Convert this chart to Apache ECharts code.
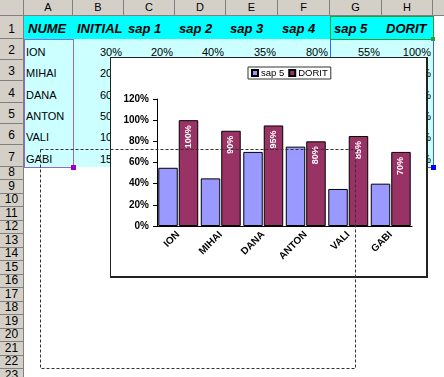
<!DOCTYPE html>
<html><head><meta charset="utf-8">
<script src="https://cdn.jsdelivr.net/npm/echarts@6/dist/echarts.min.js"></script>
<style>
html,body{margin:0;padding:0;width:444px;height:377px;overflow:hidden;background:#fff;font-family:'Liberation Sans',Arial,sans-serif;}
.abs{position:absolute;box-sizing:border-box;}
.hdr{background:#d4d0c8;color:#000;font-size:11px;display:flex;justify-content:center;border-right:1px solid #808080;border-bottom:1px solid #808080;}
.cell{white-space:nowrap;display:flex;align-items:flex-end;color:#000;}
#wrap{position:absolute;left:110px;top:57px;width:318px;height:221px;border:1px solid #222;border-right-width:2px;border-bottom-width:2px;background:#fff;box-sizing:border-box;z-index:5;}
#chart{position:absolute;left:0;top:0;width:315px;height:218px;}
#dash{position:absolute;left:0;top:0;z-index:10;pointer-events:none;}
</style></head>
<body>
<div id="sheet"></div>
<div id="wrap"><div id="chart"></div></div>
<svg id="dash" width="444" height="377"><rect x="40.5" y="149.5" width="315" height="219" fill="none" stroke="#333" stroke-width="1" stroke-dasharray="3,2"/></svg>
<script>
// ---- data ----
const headers = ['NUME','INITIAL','sap 1','sap 2','sap 3','sap 4','sap 5','DORIT'];
const names = ['ION','MIHAI','DANA','ANTON','VALI','GABI'];
const initial = [30,20,60,50,10,15];
const sap1 = [20,null,null,null,null,null];
const sap2 = [40,null,null,null,null,null];
const sap3 = [35,null,null,null,null,null];
const sap4 = [80,null,null,null,null,null];
const sap5 = [55,45,70,75,35,40];
const dorit = [100,90,95,80,85,70];
const seriesNames = ['sap 5','DORIT'];
const colLetters = ['A','B','C','D','E','F','G','H','I'];

// ---- spreadsheet ----
const sheet = document.getElementById('sheet');
const colEdges=[24,73,124,175,226,278,330,382,433,484];
const rowEdges=[15.5,38.7];
for(let i=1;i<=6;i++) rowEdges.push(38.7+21.333*i);
for(let j=1;j<=16;j++) rowEdges.push(166.7+13.5*j);
function div(cls, l,t,w,h, css, txt){
  const d=document.createElement('div'); d.className='abs '+cls;
  d.style.left=l+'px'; d.style.top=t+'px'; d.style.width=w+'px'; d.style.height=h+'px';
  if(css) d.style.cssText+=css;
  if(txt!==undefined && txt!==null){ const s=document.createElement('span'); s.textContent=txt; d.appendChild(s);} 
  sheet.appendChild(d); return d;
}
div('',24,rowEdges[0],433-24,rowEdges[1]-rowEdges[0],'background:#00ffff;');
div('',24,rowEdges[1],433-24,rowEdges[7]-rowEdges[1],'background:#ccffff;');
div('hdr',0,0,24,15.5,'');
for(let i=0;i<colEdges.length-1;i++){
  div('hdr',colEdges[i],0,colEdges[i+1]-colEdges[i],15.5,'align-items:center;',colLetters[i]);
}
for(let n=1;n<rowEdges.length;n++){
  const t=rowEdges[n-1], h=rowEdges[n]-t;
  div('hdr',0,t,24,h,'align-items:flex-end;padding-bottom:'+(h>15?2:0)+'px;font-size:12px;line-height:13px;',String(n));
}
for(let i=0;i<headers.length;i++){
  div('cell',colEdges[i],rowEdges[0],colEdges[i+1]-colEdges[i],rowEdges[1]-rowEdges[0],
    'font-size:13px;font-weight:bold;font-style:italic;line-height:15px;padding-left:4px;padding-bottom:3px;overflow:visible;',headers[i]);
}
const cols=[initial,sap1,sap2,sap3,sap4,sap5,dorit];
for(let r=0;r<names.length;r++){
  const t=rowEdges[r+1], h=rowEdges[r+2]-t;
  div('cell',colEdges[0],t,colEdges[1]-colEdges[0],h,'font-size:11px;line-height:13px;padding-left:2px;padding-bottom:1px;',names[r]);
  for(let c=0;c<cols.length;c++){
    const v=cols[c][r];
    if(v===null) continue;
    div('cell',colEdges[c+1],t,colEdges[c+2]-colEdges[c+1],h,'font-size:11px;line-height:13px;justify-content:flex-end;padding-right:2px;padding-bottom:1px;',v+'%');
  }
}
div('',colEdges[0],rowEdges[1],colEdges[1]-colEdges[0]+1,rowEdges[7]-rowEdges[1]+1,'border:1px solid #9966cc;');
div('',colEdges[1]-2,rowEdges[7]-2,5,5,'background:#9900cc;');
div('',colEdges[6],rowEdges[1],colEdges[8]-colEdges[6]+1,rowEdges[7]-rowEdges[1]+1,'border:1px solid #3366ff;');
div('',colEdges[8]-2,rowEdges[7]-2,5,5,'background:#0000ff;');
div('',colEdges[6],rowEdges[0],colEdges[8]-colEdges[6]+1,rowEdges[1]-rowEdges[0]+1,'border:1px solid #339933;');
div('',colEdges[8]-2,rowEdges[1]-2,4,4,'background:#339933;');

// ---- chart ----
const chart = echarts.init(document.getElementById('chart'), null, {renderer:'canvas'});
const font='Liberation Sans';
chart.setOption({
  animation:false,
  backgroundColor:'#fff',
  textStyle:{fontFamily:font},
  legend:{left:137,top:9,itemWidth:6,itemHeight:6,itemGap:4,padding:[1,3,1,3],
    borderColor:'#333',borderWidth:1,icon:'rect',
    textStyle:{fontSize:9.5,color:'#000',fontFamily:font,padding:[0,0,0,-2]},data:seriesNames},
  grid:{left:46,top:41,right:14,bottom:50,containLabel:false},
  xAxis:{type:'category',data:names,
    axisLine:{lineStyle:{color:'#000',width:1}},axisTick:{show:false},
    axisLabel:{rotate:45,interval:0,fontSize:10,fontWeight:'bold',color:'#000',margin:7,fontFamily:font}},
  yAxis:{type:'value',min:0,max:120,interval:20,
    axisLine:{show:true,lineStyle:{color:'#000',width:1}},
    axisTick:{show:true,inside:false,length:4,lineStyle:{color:'#000'}},
    splitLine:{show:false},
    axisLabel:{formatter:'{value}%',fontSize:10,fontWeight:'bold',color:'#000',margin:8,fontFamily:font}},
  series:[
    {name:seriesNames[0],type:'bar',data:sap5,barGap:'5%',barCategoryGap:'6%',
      itemStyle:{color:'#9999ff',borderColor:'#000',borderWidth:1}},
    {name:seriesNames[1],type:'bar',data:dorit,
      itemStyle:{color:'#993366',borderColor:'#000',borderWidth:1},
      label:{show:true,position:'insideTop',rotate:90,align:'right',verticalAlign:'middle',distance:5,
        formatter:'{c}%',color:'#fff',fontSize:9,fontWeight:'bold',fontFamily:font}}
  ]
});
</script>
</body></html>
